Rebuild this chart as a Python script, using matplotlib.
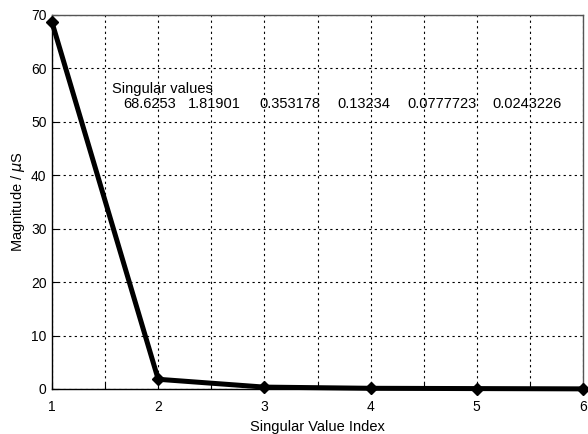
import matplotlib
matplotlib.use("Agg")
import matplotlib.pyplot as plt
import numpy as np

# Singular values of the sensitivity matrix
index = [1, 2, 3, 4, 5, 6]
singular_values = [68.6253, 1.81901, 0.353178, 0.13234, 0.0777723, 0.0243226]
value_labels = ["68.6253", "1.81901", "0.353178", "0.13234", "0.0777723", "0.0243226"]
# horizontal anchors (in index units) for the printed value row
label_x = [1.668, 2.28, 2.95, 3.69, 4.35, 5.15]

plt.rcParams['font.family'] = ['Liberation Sans', 'DejaVu Sans']

fig = plt.figure(figsize=(5.88, 4.34), dpi=100)
ax = fig.add_axes([52/588, 1 - 389/434, 531/588, 374/434])

ax.plot(index, singular_values, color='black', lw=3.6, marker='D',
        markersize=6.5, markerfacecolor='black', zorder=3, clip_on=False)

ax.set_xlim(1, 6)
ax.set_ylim(0, 70)
ax.set_xticks(np.arange(1, 6.01, 1))
ax.set_xticks(np.arange(1.5, 6, 1), minor=True)
ax.set_yticks(np.arange(0, 71, 10))
ax.tick_params(which='both', direction='in', length=4, width=0.8,
               labelsize=10, top=False, right=False)
ax.tick_params(axis='x', pad=8)
ax.tick_params(axis='y', pad=4)
ax.grid(True, which='both', axis='x', linestyle=(0, (2, 3)), color='black', lw=0.8)
ax.grid(True, which='major', axis='y', linestyle=(0, (2, 3)), color='black', lw=0.8)
for name, s in ax.spines.items():
    s.set_linewidth(1.0)
    s.set_color('black' if name in ('left', 'bottom') else '#555555')

ax.set_xlabel('Singular Value Index', fontsize=10.5, labelpad=4)
ax.set_ylabel('Magnitude / $\\mu$S', fontsize=10.5, labelpad=3)

ax.text(1.565, 56.2, 'Singular values', fontsize=10.5, ha='left', va='center')
for xv, t in zip(label_x, value_labels):
    ax.text(xv, 53.3, t, fontsize=10.5, ha='left', va='center')

fig.savefig('out.png', dpi=100)
